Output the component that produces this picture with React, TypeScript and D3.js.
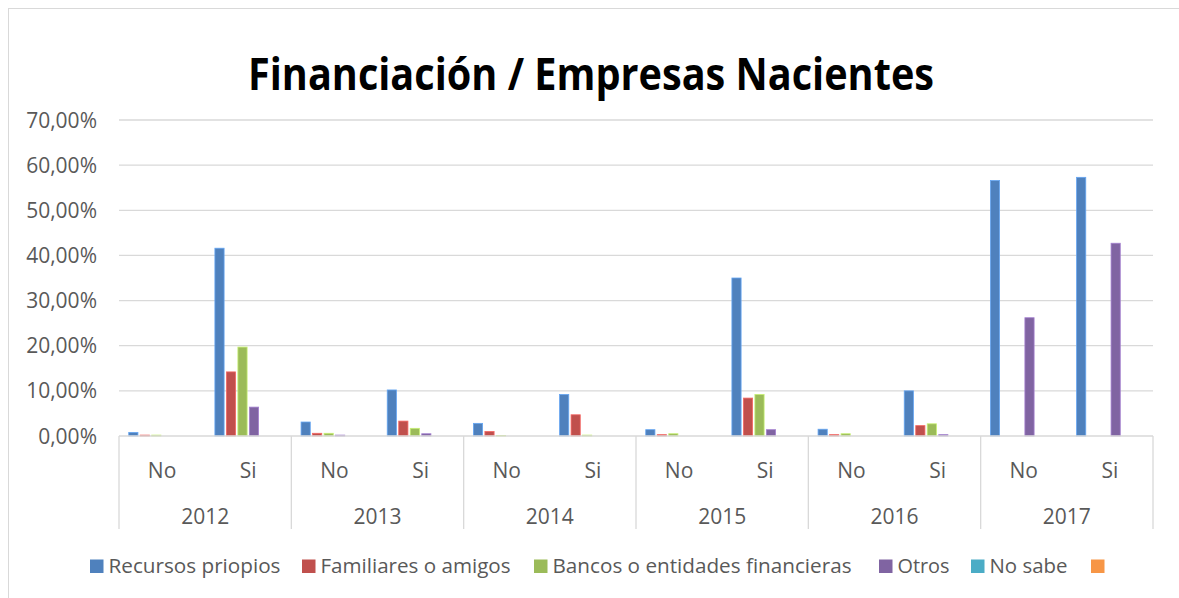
import React from "react";
import * as d3 from "d3";

const years = ["2012", "2013", "2014", "2015", "2016", "2017"];
const subCats = ["No", "Si"];
const seriesNames = [
  "Recursos priopios",
  "Familiares o amigos",
  "Bancos o entidades financieras",
  "Otros",
  "No sabe",
  "",
];
// values in %, order: 2012 No, 2012 Si, 2013 No, 2013 Si, ...
const recursos = [0.8, 41.6, 3.1, 10.2, 2.8, 9.2, 1.4, 35.0, 1.5, 10.0, 56.6, 57.3];
const familiares = [0.2, 14.2, 0.6, 3.3, 1.0, 4.7, 0.3, 8.4, 0.3, 2.3, 0, 0];
const bancos = [0.2, 19.7, 0.6, 1.7, 0.1, 0.2, 0.5, 9.2, 0.5, 2.7, 0, 0];
const otros = [0, 6.4, 0.2, 0.5, 0, 0, 0, 1.4, 0, 0.3, 26.2, 42.7];
const noSabe = [0, 0, 0, 0, 0, 0, 0, 0, 0, 0, 0, 0];
const blank = [0, 0, 0, 0, 0, 0, 0, 0, 0, 0, 0, 0];
const yTicks = [0, 10, 20, 30, 40, 50, 60, 70];

const seriesValues = [recursos, familiares, bancos, otros, noSabe, blank];
const colors = ["#4F81BD", "#C0504D", "#9BBB59", "#8064A2", "#4BACC6", "#F79646"];

const legendX = [90, 302, 534, 879, 971, 1091];
const legendTextLen = [172, 190, 299, 52, 78, 0];

const FONT = "'Open Sans', 'Noto Sans', sans-serif";
const TXT = "#595959";
const GRID = "#D9D9D9";

export default function App() {
  const left = 119, right = 1153, y0 = 436, yTop = 120;
  const cats = years.flatMap((y) => subCats.map((s) => `${y}|${s}`));
  const x = d3.scaleBand<string>().domain(cats).range([left, right]).padding(0);
  const bw = x.bandwidth();
  const slot = 11.5;
  const inner = d3
    .scaleBand<number>()
    .domain(d3.range(seriesNames.length))
    .range([(bw - slot * 6) / 2, (bw + slot * 6) / 2])
    .paddingInner(0.2)
    .paddingOuter(0.1);
  const y = d3.scaleLinear().domain([0, 70]).range([y0, yTop]);
  const groupW = (right - left) / years.length;

  return (
    <svg
      width={1179}
      height={598}
      style={{ position: "absolute", left: 0, top: 0, background: "#fff" }}
    >
      <rect x={8.5} y={8.5} width={1300} height={700} fill="#fff" stroke={GRID} strokeWidth={1} />
      <text
        x={591}
        y={90}
        textAnchor="middle"
        fontFamily={FONT}
        fontWeight="bold"
        fontSize={44}
        fill="#000"
        textLength={686}
        lengthAdjust="spacingAndGlyphs"
      >
        Financiación / Empresas Nacientes
      </text>
      {yTicks.map((t) => (
        <g key={t}>
          {t > 0 && (
            <line x1={left} x2={right} y1={y(t)} y2={y(t)} stroke={GRID} strokeWidth={1.3} />
          )}
          <text
            x={97}
            y={y(t)}
            dy="0.36em"
            textAnchor="end"
            fontFamily={FONT}
            fontSize={21}
            fill={TXT}
          >
            {t.toFixed(2).replace(".", ",")}%
          </text>
        </g>
      ))}
      {seriesValues.map((vals, si) =>
        vals.map((v, ci) =>
          v > 0 ? (
            <rect
              key={`${si}-${ci}`}
              x={(x(cats[ci]) as number) + (inner(si) as number)}
              y={y(v)}
              width={inner.bandwidth()}
              height={y0 - y(v)}
              fill={colors[si]}
              stroke={d3.color(colors[si])!.brighter(0.7).formatHex()}
              strokeWidth={0.8}
            />
          ) : null
        )
      )}
      <line x1={left} x2={right} y1={y0} y2={y0} stroke={GRID} strokeWidth={1.3} />
      {d3.range(years.length + 1).map((i) => (
        <line
          key={i}
          x1={left + i * groupW}
          x2={left + i * groupW}
          y1={y0}
          y2={529}
          stroke={GRID}
          strokeWidth={1.3}
        />
      ))}
      {cats.map((c) => (
        <text
          key={c}
          x={(x(c) as number) + bw / 2}
          y={470}
          dy="0.36em"
          textAnchor="middle"
          fontFamily={FONT}
          fontSize={21}
          fill={TXT}
        >
          {c.split("|")[1]}
        </text>
      ))}
      {years.map((yr, i) => (
        <text
          key={yr}
          x={left + (i + 0.5) * groupW}
          y={516}
          dy="0.36em"
          textAnchor="middle"
          fontFamily={FONT}
          fontSize={21}
          fill={TXT}
        >
          {yr}
        </text>
      ))}
      {seriesNames.map((n, i) => (
        <g key={i}>
          <rect x={legendX[i]} y={559.5} width={13.5} height={13.5} fill={colors[i]} />
          {n && (
            <text
              x={legendX[i] + 18.5}
              y={566}
              dy="0.36em"
              fontFamily={FONT}
              fontSize={20}
              fill={TXT}
              textLength={legendTextLen[i]}
              lengthAdjust="spacingAndGlyphs"
            >
              {n}
            </text>
          )}
        </g>
      ))}
    </svg>
  );
}
